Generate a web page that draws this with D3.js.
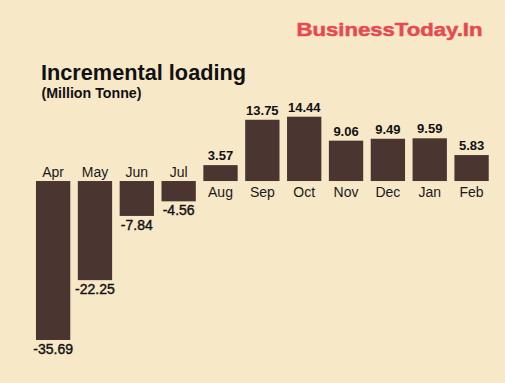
<!DOCTYPE html>
<html>
<head>
<meta charset="utf-8">
<script src="https://cdn.jsdelivr.net/npm/d3@7"></script>
<style>
  html, body { margin: 0; padding: 0; background: #f7e8c8; }
  svg { display: block; font-family: "Liberation Sans", Arial, sans-serif; }
</style>
</head>
<body>
<svg id="chart" width="505" height="383"></svg>
<script>
const months = ["Apr","May","Jun","Jul","Aug","Sep","Oct","Nov","Dec","Jan","Feb"];
const values = [-35.69,-22.25,-7.84,-4.56,3.57,13.75,14.44,9.06,9.49,9.59,5.83];
const title = "Incremental loading";
const subtitle = "(Million Tonne)";
const brand = "BusinessToday.In";

const W = 505, H = 383;
const svg = d3.select("#chart");
svg.append("rect").attr("width", W).attr("height", H).attr("fill", "#f7e8c8");

const data = months.map((m, i) => ({ m, v: values[i] }));

const x = d3.scaleBand().domain(months).range([32.2, 492.5]).paddingInner(0.18).paddingOuter(0.09);
const y = d3.scaleLinear().domain([-35.69, 14.44]).range([340, 116.7]);

const barColor = "#4b3530";
const fmt = v => v.toFixed(2);

svg.append("g").selectAll("rect").data(data).join("rect")
  .attr("x", d => x(d.m))
  .attr("width", x.bandwidth())
  .attr("y", d => Math.min(y(d.v), y(0)))
  .attr("height", d => Math.abs(y(d.v) - y(0)))
  .attr("fill", barColor);

// month labels
svg.append("g").selectAll("text").data(data).join("text")
  .attr("x", d => x(d.m) + x.bandwidth() / 2)
  .attr("y", d => d.v < 0 ? y(0) - 4 : y(0) + 16)
  .attr("text-anchor", "middle")
  .attr("font-size", 14)
  .attr("fill", "#1a1a1a")
  .text(d => d.m);

// value labels
svg.append("g").selectAll("text").data(data).join("text")
  .attr("x", d => x(d.m) + x.bandwidth() / 2)
  .attr("y", d => d.v < 0 ? y(d.v) + 14 : y(d.v) - 5)
  .attr("text-anchor", "middle")
  .attr("font-size", d => d.v < 0 ? 14 : 13)
  .attr("font-weight", d => d.v < 0 ? "normal" : "bold")
  .attr("fill", "#111")
  .attr("stroke", d => d.v < 0 ? "#111" : "none")
  .attr("stroke-width", 0.4)
  .text(d => fmt(d.v));

// title
svg.append("text")
  .attr("x", 41).attr("y", 80)
  .attr("font-size", 22).attr("font-weight", "bold")
  .attr("fill", "#111")
  .attr("textLength", 205).attr("lengthAdjust", "spacingAndGlyphs")
  .text(title);

svg.append("text")
  .attr("x", 41.5).attr("y", 98)
  .attr("font-size", 14).attr("font-weight", "bold")
  .attr("fill", "#111")
  .attr("textLength", 100).attr("lengthAdjust", "spacingAndGlyphs")
  .text(subtitle);

svg.append("text")
  .attr("x", 296.5).attr("y", 36)
  .attr("font-size", 19).attr("font-weight", "bold")
  .attr("fill", "#e64a50")
  .attr("stroke", "#e64a50").attr("stroke-width", 0.5)
  .attr("textLength", 186).attr("lengthAdjust", "spacingAndGlyphs")
  .text(brand);
</script>
</body>
</html>
